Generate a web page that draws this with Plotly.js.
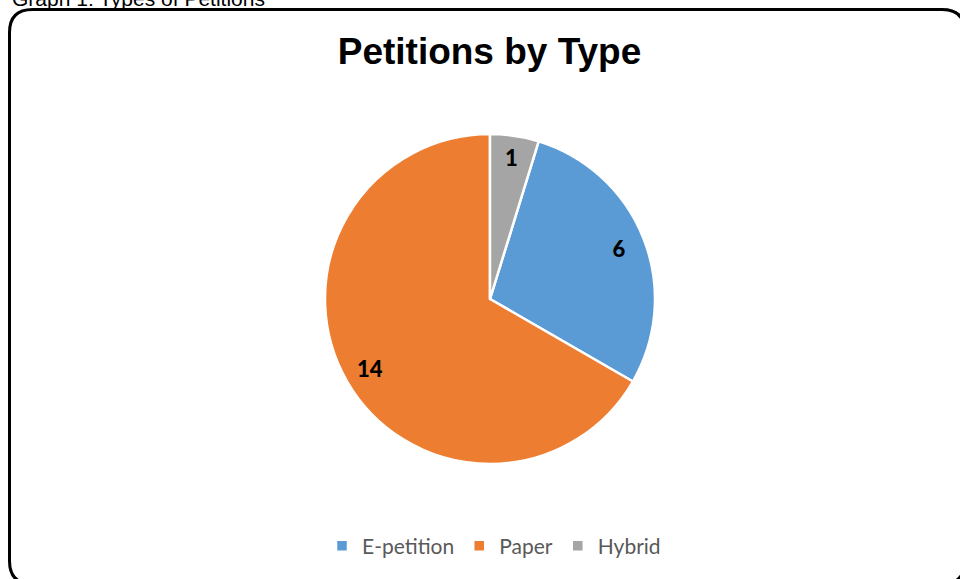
<!DOCTYPE html>
<html>
<head>
<meta charset="utf-8">
<script src="https://cdn.plot.ly/plotly-3.0.1.min.js"></script>
<style>
  html, body { margin: 0; padding: 0; background: #ffffff; overflow: hidden; }
  #chart { width: 960px; height: 579px; }
</style>
</head>
<body>
<div id="chart"></div>
<script>
// ---- data ----
const categories = ['E-petition', 'Paper', 'Hybrid'];
const counts = [6, 14, 1];
const sliceColors = ['#5B9BD5', '#ED7D31', '#A5A5A5'];
const chartTitle = 'Petitions by Type';
const caption = 'Graph 1: Types of Petitions';

// ---- layout helpers (pixel -> paper, margins are zero) ----
const W = 960, H = 579;
const px = x => x / W;
const py = y => 1 - y / H;
const P = (x, y) => px(x).toFixed(5) + ',' + py(y).toFixed(5);

// pie geometry
const cx = 490, cy = 299, r = 165;
const pieDomain = { x: [px(cx - r), px(cx + r)], y: [py(cy + r), py(cy - r)] };

// first slice starts after the last (Hybrid) slice, which sits at 12 o'clock
const total = counts.reduce((a, b) => a + b, 0);
const startRotation = 360 * counts[counts.length - 1] / total;

const basePie = {
  type: 'pie',
  labels: categories,
  values: counts,
  sort: false,
  direction: 'clockwise',
  rotation: startRotation,
  domain: pieDomain,
  marker: { colors: sliceColors, line: { color: '#ffffff', width: 2.5 } },
  textinfo: 'none',
  hoverinfo: 'label+value',
  showlegend: true
};

// transparent ring on top used only to place the value labels near the rim
const labelRing = {
  type: 'pie',
  labels: categories,
  values: counts,
  sort: false,
  direction: 'clockwise',
  rotation: startRotation,
  domain: pieDomain,
  hole: 0.68,
  marker: { colors: ['rgba(0,0,0,0)', 'rgba(0,0,0,0)', 'rgba(0,0,0,0)'], line: { width: 0 } },
  textinfo: 'value',
  textposition: 'inside',
  insidetextorientation: 'horizontal',
  insidetextfont: { family: 'Lato, sans-serif', size: 22, color: '#000000', weight: 900 },
  hoverinfo: 'skip',
  showlegend: false
};

// rounded frame
const L = 9.5, T = 9.5, Rt = 965, B = 584, R = 23;
const framePath = 'M ' + P(L, T + R) + ' Q ' + P(L, T) + ' ' + P(L + R, T) +
  ' L ' + P(Rt - R, T) + ' Q ' + P(Rt, T) + ' ' + P(Rt, T + R) +
  ' L ' + P(Rt, B - R) + ' Q ' + P(Rt, B) + ' ' + P(Rt - R, B) +
  ' L ' + P(L + R, B) + ' Q ' + P(L, B) + ' ' + P(L, B - R) + ' Z';

const layout = {
  width: W,
  height: H,
  margin: { l: 0, r: 0, t: 0, b: 0, pad: 0 },
  paper_bgcolor: '#ffffff',
  plot_bgcolor: '#ffffff',
  title: {
    text: chartTitle,
    x: px(489.5), xanchor: 'center', xref: 'container',
    y: py(51.5), yanchor: 'middle', yref: 'container',
    font: { family: 'Arial, "Liberation Sans", sans-serif', size: 37, color: '#000000', weight: 'bold' }
  },
  showlegend: true,
  legend: {
    orientation: 'h',
    x: px(494), xanchor: 'center',
    y: py(546), yanchor: 'middle',
    font: { family: 'Lato, sans-serif', size: 21, color: '#595959' },
    traceorder: 'normal',
    bgcolor: 'rgba(0,0,0,0)'
  },
  shapes: [{
    type: 'path', xref: 'paper', yref: 'paper',
    path: framePath,
    line: { color: '#000000', width: 3 },
    fillcolor: 'rgba(0,0,0,0)'
  }],
  annotations: [{
    text: caption,
    xref: 'paper', yref: 'paper',
    x: px(10), xanchor: 'left',
    y: py(-2), yanchor: 'middle',
    showarrow: false,
    font: { family: 'Arial, "Liberation Sans", sans-serif', size: 21, color: '#000000' }
  }]
};

Plotly.newPlot('chart', [basePie, labelRing], layout, { displayModeBar: false, staticPlot: true });
</script>
</body>
</html>
